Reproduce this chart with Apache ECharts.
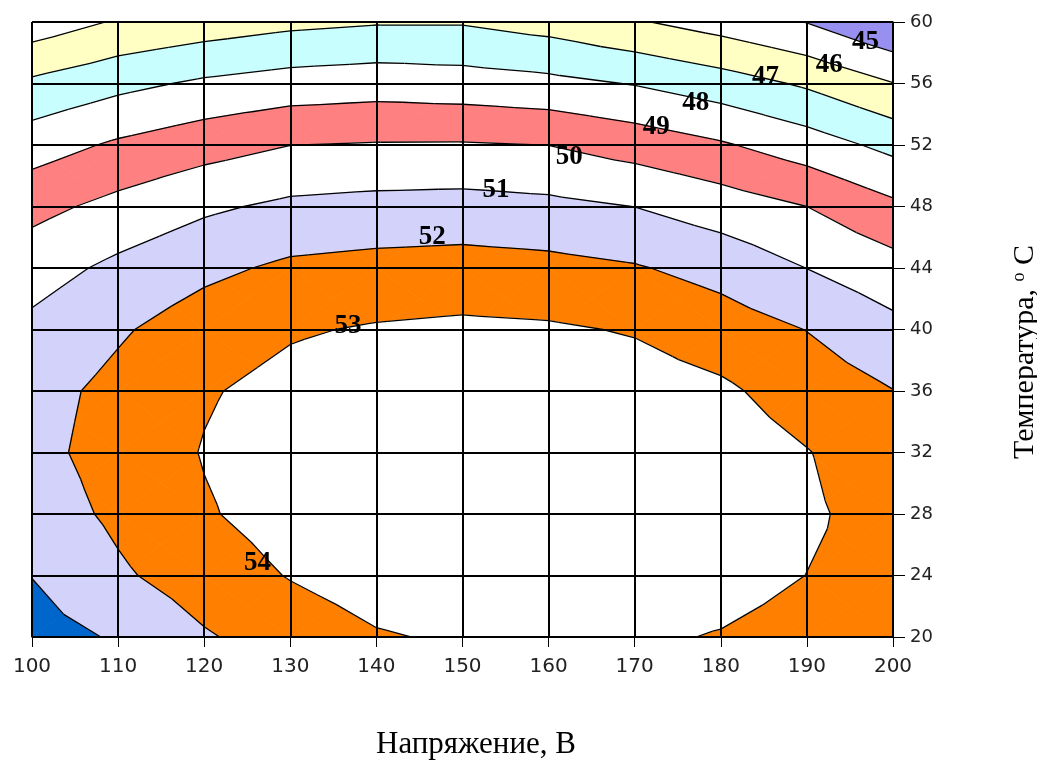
<!DOCTYPE html>
<html><head><meta charset="utf-8">
<script src="https://cdn.jsdelivr.net/npm/echarts@6/dist/echarts.min.js"></script>
<style>html,body{margin:0;padding:0;background:#fff}#c{width:1037px;height:761px}</style>
</head><body><div id="c"></div>
<script>
// Grid of the surface: voltage (x) and temperature (y)
const voltage = [100, 110, 120, 130, 140, 150, 160, 170, 180, 190, 200];
const temperature = [20, 24, 28, 32, 36, 40, 44, 48, 52, 56, 60];
// values, one row per temperature (20 ... 60), one column per voltage (100 ... 200)
const t20 = [50.60, 51.10, 51.90, 52.46, 52.92, 53.12, 53.18, 53.15, 52.94, 52.60, 52.40];
const t24 = [51.02, 51.85, 52.50, 53.05, 53.45, 53.61, 53.65, 53.54, 53.41, 52.99, 52.60];
const t28 = [51.47, 52.20, 52.91, 53.39, 53.72, 53.90, 53.88, 53.75, 53.60, 53.15, 52.60];
const t32 = [51.72, 52.38, 53.05, 53.48, 53.76, 53.93, 53.86, 53.72, 53.53, 53.04, 52.40];
const t36 = [51.64, 52.27, 52.91, 53.31, 53.54, 53.69, 53.61, 53.45, 53.17, 52.55, 52.02];
const t40 = [51.23, 51.88, 52.50, 52.90, 53.09, 53.19, 53.12, 52.93, 52.49, 51.98, 51.28];
const t44 = [50.58, 51.22, 51.77, 52.18, 52.32, 52.39, 52.29, 52.08, 51.65, 50.99, 50.37];
const t48 = [49.70, 50.29, 50.83, 51.20, 51.32, 51.37, 51.24, 50.99, 50.51, 50.00, 49.21];
const t52 = [48.54, 49.15, 49.60, 49.99, 50.07, 50.08, 49.99, 49.58, 49.11, 48.49, 47.72];
const t56 = [47.19, 47.73, 48.16, 48.43, 48.55, 48.45, 48.27, 47.95, 47.47, 46.86, 46.03];
const t60 = [45.42, 46.10, 46.46, 46.76, 46.92, 46.92, 46.60, 46.10, 45.57, 44.97, 44.02];
const values = [t20, t24, t28, t32, t36, t40, t44, t48, t52, t56, t60];

const contourLevels = [45, 46, 47, 48, 49, 50, 51, 52, 53];
// colour of band below 45, 45-46, ..., above 53
const bandColors = ['#9790F0', '#FFFFFF', '#FFFFC4', '#C8FEFE', '#FFFFFF', '#FF8080', '#FFFFFF', '#D2D2FB', '#FF8000', '#FFFFFF'];
// the 50-51 band in the lower-left corner cell is filled blue in the original
const cornerBand = { voltage: 100, temperature: 20, low: 50, color: '#0066CC' };

const labelText = ['45', '46', '47', '48', '49', '50', '51', '52', '53', '54'];
const labelVoltage = [196.8, 192.6, 185.2, 177.1, 172.5, 162.4, 153.9, 146.5, 136.7, 126.2];
const labelTemp = [58.7, 57.2, 56.4, 54.7, 53.2, 51.2, 49.1, 46.0, 40.2, 24.8];

const cells = [];
for (let j = 0; j < temperature.length - 1; j++)
  for (let i = 0; i < voltage.length - 1; i++)
    cells.push([voltage[i], temperature[j], i, j]);

function clip(poly, t, keepAbove) {
  const out = [];
  const n = poly.length;
  for (let k = 0; k < n; k++) {
    const a = poly[k], b = poly[(k + 1) % n];
    const ina = keepAbove ? a.v >= t : a.v <= t;
    const inb = keepAbove ? b.v >= t : b.v <= t;
    if (ina) out.push(a);
    if (ina !== inb) {
      const s = (t - a.v) / (b.v - a.v);
      out.push({ p: [a.p[0] + s * (b.p[0] - a.p[0]), a.p[1] + s * (b.p[1] - a.p[1])], v: t });
    }
  }
  return out;
}

// nudge a node that sits exactly on a level so the contour line is not lost
const nudge = v => (contourLevels.indexOf(v) >= 0 ? v + 1e-6 : v);

function triangles(api) {
  const i = api.value(2), j = api.value(3);
  const x0 = voltage[i], x1 = voltage[i + 1], y0 = temperature[j], y1 = temperature[j + 1];
  const A = { p: api.coord([x0, y0]), v: nudge(values[j][i]) };
  const B = { p: api.coord([x1, y0]), v: nudge(values[j][i + 1]) };
  const C = { p: api.coord([x1, y1]), v: nudge(values[j + 1][i + 1]) };
  const D = { p: api.coord([x0, y1]), v: nudge(values[j + 1][i]) };
  const M = { p: [(A.p[0] + C.p[0]) / 2, (A.p[1] + C.p[1]) / 2], v: nudge((A.v + B.v + C.v + D.v) / 4) };
  return { i, j, tris: [[A, B, M], [B, C, M], [C, D, M], [D, A, M]] };
}

function renderFill(params, api) {
  const { i, j, tris } = triangles(api);
  const children = [];
  tris.forEach(tri => {
    for (let k = 0; k <= contourLevels.length; k++) {
      const lo = k === 0 ? -Infinity : contourLevels[k - 1];
      const hi = k === contourLevels.length ? Infinity : contourLevels[k];
      let poly = tri;
      if (isFinite(lo)) poly = clip(poly, lo, true);
      if (poly.length >= 3 && isFinite(hi)) poly = clip(poly, hi, false);
      if (poly.length < 3) continue;
      let color = bandColors[k];
      if (voltage[i] === cornerBand.voltage && temperature[j] === cornerBand.temperature && lo === cornerBand.low) color = cornerBand.color;
      children.push({ type: 'polygon', shape: { points: poly.map(q => q.p) },
        style: { fill: color, stroke: color, lineWidth: 0.8 } });
    }
  });
  return { type: 'group', children };
}

function renderLines(params, api) {
  const { tris } = triangles(api);
  const children = [];
  tris.forEach(tri => {
    contourLevels.forEach(t => {
      const pts = [];
      for (let k = 0; k < 3; k++) {
        const a = tri[k], b = tri[(k + 1) % 3];
        if ((a.v - t) * (b.v - t) < 0) {
          const s = (t - a.v) / (b.v - a.v);
          pts.push([a.p[0] + s * (b.p[0] - a.p[0]), a.p[1] + s * (b.p[1] - a.p[1])]);
        }
      }
      if (pts.length === 2) children.push({ type: 'polyline', shape: { points: pts },
        style: { stroke: '#000', lineWidth: 1.3, fill: null } });
    });
  });
  return { type: 'group', children };
}

const chart = echarts.init(document.getElementById('c'), null, { renderer: 'canvas' });
chart.setOption({
  animation: false,
  backgroundColor: '#fff',
  grid: { left: 32, right: 144, top: 22, bottom: 124 },
  xAxis: {
    type: 'value', min: 100, max: 200, interval: 10, z: 5,
    axisLine: { show: true, lineStyle: { color: '#000', width: 1 } },
    axisTick: { show: true, length: 10, lineStyle: { color: '#000' } },
    axisLabel: { margin: 20, fontSize: 20, fontFamily: 'DejaVu Sans', color: '#222' },
    splitLine: { show: true, lineStyle: { color: '#000', width: 2 } }
  },
  yAxis: {
    type: 'value', min: 20, max: 60, interval: 4, position: 'right', z: 5,
    axisLine: { show: true, lineStyle: { color: '#000', width: 1 } },
    axisTick: { show: true, length: 12, lineStyle: { color: '#000' } },
    axisLabel: { margin: 17, fontSize: 18, fontFamily: 'DejaVu Sans', color: '#222' },
    splitLine: { show: true, lineStyle: { color: '#000', width: 2 } }
  },
  graphic: [
    { type: 'text', x: 476, y: 745, style: { text: 'Напряжение, В', fontSize: 31, fontFamily: 'Liberation Serif', fill: '#000', align: 'center', verticalAlign: 'middle' } },
    { type: 'text', x: 1025, y: 352, rotation: Math.PI / 2,
      style: { text: 'Температура, {s|o} C', fontSize: 30, fontFamily: 'Liberation Serif', fill: '#000', align: 'center', verticalAlign: 'middle',
        rich: { s: { fontSize: 18, fontFamily: 'Liberation Serif', verticalAlign: 'top', lineHeight: 30 } } } }
  ],
  series: [
    { type: 'custom', z: 1, silent: true, renderItem: renderFill, encode: { x: 0, y: 1 }, data: cells, clip: true },
    { type: 'custom', z: 2, silent: true, renderItem: renderLines, encode: { x: 0, y: 1 }, data: cells, clip: true },
    { type: 'scatter', z: 8, silent: true, symbol: 'circle', symbolSize: 1, itemStyle: { color: 'rgba(0,0,0,0)' },
      data: labelText.map((t, k) => ({ name: t, value: [labelVoltage[k], labelTemp[k]] })),
      label: { show: true, position: 'inside', formatter: '{b}', fontSize: 27, fontWeight: 'bold', fontFamily: 'Liberation Serif',
        color: '#000', textBorderWidth: 0, textBorderColor: 'transparent', opacity: 1 } }
  ]
});
</script>
</body></html>
